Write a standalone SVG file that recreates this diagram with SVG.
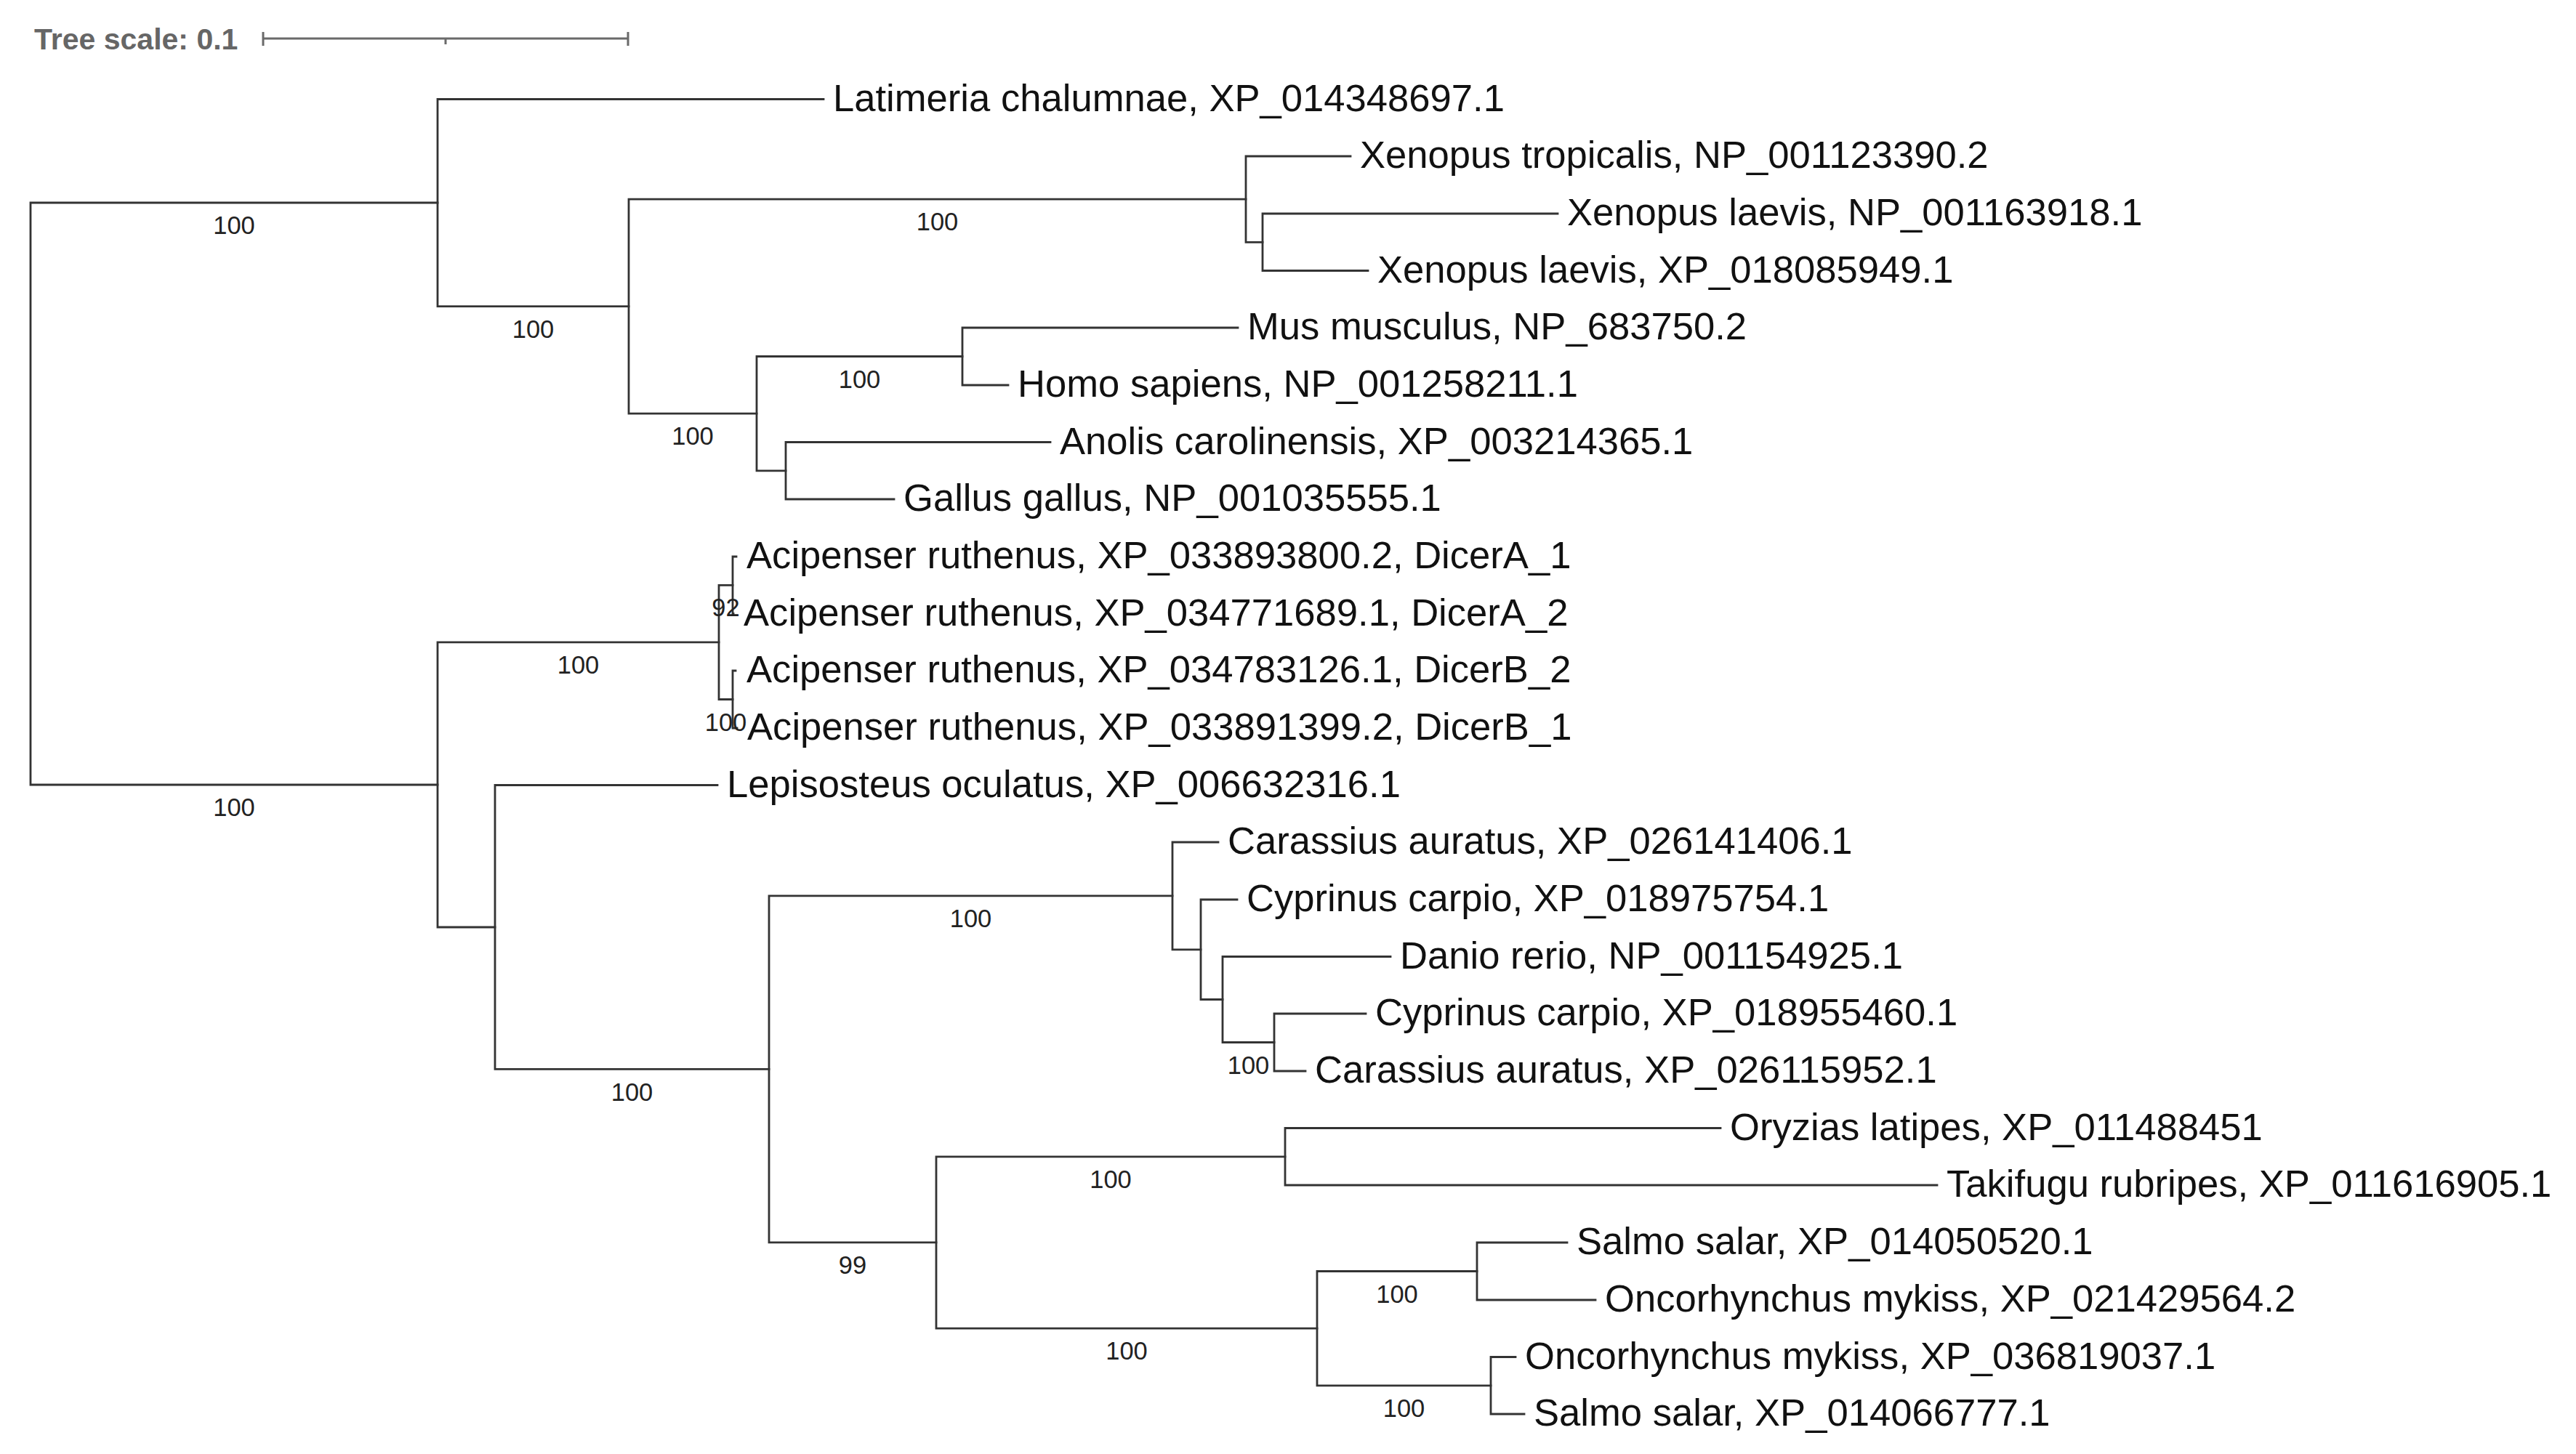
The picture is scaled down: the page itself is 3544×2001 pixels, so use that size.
<svg xmlns="http://www.w3.org/2000/svg" width="3544" height="2001" viewBox="0 0 3544 2001">
<style>
.br{fill:none;stroke:#333;stroke-width:2.8;stroke-linecap:square}
.leaf{font-family:"Liberation Sans",Arial,sans-serif;font-size:52.6px;fill:#111}
.bs{font-family:"Liberation Sans",Arial,sans-serif;font-size:34.5px;fill:#222;text-anchor:middle}
.scl{fill:none;stroke:#6a6a6a;stroke-width:3}
.sct{font-family:"Liberation Sans",Arial,sans-serif;font-size:41px;font-weight:bold;fill:#666}
</style>
<rect width="3544" height="2001" fill="#fff"/>
<g id="scale">
<text class="sct" x="47" y="68">Tree scale: 0.1</text>
<path class="scl" d="M362,53 H864 M362,44 V63 M864,44 V63 M613,53 V61"/>
</g>
<g id="connectors">
<path class="br" d="M42,679.5 V279 H602 M42,679.5 V1080 H602"/>
<path class="br" d="M602,279 V136.5 H1133 M602,279 V421.6 H865"/>
<path class="br" d="M865,421.6 V274.1 H1714 M865,421.6 V569.1 H1041"/>
<path class="br" d="M1714,274.1 V215 H1858 M1714,274.1 V333.3 H1737"/>
<path class="br" d="M1737,333.3 V294 H2143 M1737,333.3 V372.5 H1882"/>
<path class="br" d="M1041,569.1 V490.5 H1324 M1041,569.1 V647.8 H1081"/>
<path class="br" d="M1324,490.5 V451 H1703 M1324,490.5 V530 H1387"/>
<path class="br" d="M1081,647.8 V608.5 H1445 M1081,647.8 V687 H1230"/>
<path class="br" d="M602,1080 V883.9 H989 M602,1080 V1276 H681"/>
<path class="br" d="M989,883.9 V805.3 H1008 M989,883.9 V962.5 H1008"/>
<path class="br" d="M1008,805.3 V766 H1013 M1008,805.3 V844.5 H1009"/>
<path class="br" d="M1008,962.5 V923 H1012 M1008,962.5 V1002 H1014"/>
<path class="br" d="M681,1276 V1080.5 H987 M681,1276 V1471.4 H1058"/>
<path class="br" d="M1058,1471.4 V1232.9 H1613 M1058,1471.4 V1709.9 H1288"/>
<path class="br" d="M1613,1232.9 V1159 H1676 M1613,1232.9 V1306.8 H1652"/>
<path class="br" d="M1652,1306.8 V1238 H1702 M1652,1306.8 V1375.5 H1682"/>
<path class="br" d="M1682,1375.5 V1316.5 H1913 M1682,1375.5 V1434.5 H1753"/>
<path class="br" d="M1753,1434.5 V1395 H1879 M1753,1434.5 V1474 H1796"/>
<path class="br" d="M1288,1709.9 V1591.8 H1768 M1288,1709.9 V1828.1 H1812"/>
<path class="br" d="M1768,1591.8 V1552.5 H2367 M1768,1591.8 V1631 H2665"/>
<path class="br" d="M1812,1828.1 V1749.5 H2032 M1812,1828.1 V1906.8 H2051"/>
<path class="br" d="M2032,1749.5 V1710 H2156 M2032,1749.5 V1789 H2195"/>
<path class="br" d="M2051,1906.8 V1867.5 H2085 M2051,1906.8 V1946 H2097"/>
</g>
<g id="support">
<text class="bs" x="322" y="322">100</text>
<text class="bs" x="733.5" y="465">100</text>
<text class="bs" x="1289.5" y="317">100</text>
<text class="bs" x="953" y="612">100</text>
<text class="bs" x="1182.5" y="533.5">100</text>
<text class="bs" x="322" y="1123">100</text>
<text class="bs" x="795.5" y="927">100</text>
<text class="bs" x="998.5" y="848">92</text>
<text class="bs" x="998.5" y="1005.5">100</text>
<text class="bs" x="869.5" y="1514.5">100</text>
<text class="bs" x="1335.5" y="1276">100</text>
<text class="bs" x="1717.5" y="1477.5">100</text>
<text class="bs" x="1173" y="1753">99</text>
<text class="bs" x="1528" y="1635">100</text>
<text class="bs" x="1550" y="1871">100</text>
<text class="bs" x="1922" y="1792.5">100</text>
<text class="bs" x="1931.5" y="1950">100</text>
</g>
<g id="leaf-latimeria"><text class="leaf" x="1146" y="152.5">Latimeria chalumnae, XP_014348697.1</text></g>
<g id="leaf-xtropicalis"><text class="leaf" x="1871" y="231">Xenopus tropicalis, NP_001123390.2</text></g>
<g id="leaf-xlaevis-np"><text class="leaf" x="2156" y="310">Xenopus laevis, NP_001163918.1</text></g>
<g id="leaf-xlaevis-xp"><text class="leaf" x="1895" y="388.5">Xenopus laevis, XP_018085949.1</text></g>
<g id="leaf-mus"><text class="leaf" x="1716" y="467">Mus musculus, NP_683750.2</text></g>
<g id="leaf-homo"><text class="leaf" x="1400" y="546">Homo sapiens, NP_001258211.1</text></g>
<g id="leaf-anolis"><text class="leaf" x="1458" y="624.5">Anolis carolinensis, XP_003214365.1</text></g>
<g id="leaf-gallus"><text class="leaf" x="1243" y="703">Gallus gallus, NP_001035555.1</text></g>
<g id="leaf-acipenser-a1"><text class="leaf" x="1027" y="782">Acipenser ruthenus, XP_033893800.2, DicerA_1</text></g>
<g id="leaf-acipenser-a2"><text class="leaf" x="1023" y="860.5">Acipenser ruthenus, XP_034771689.1, DicerA_2</text></g>
<g id="leaf-acipenser-b2"><text class="leaf" x="1027" y="939">Acipenser ruthenus, XP_034783126.1, DicerB_2</text></g>
<g id="leaf-acipenser-b1"><text class="leaf" x="1028" y="1018">Acipenser ruthenus, XP_033891399.2, DicerB_1</text></g>
<g id="leaf-lepisosteus"><text class="leaf" x="1000" y="1096.5">Lepisosteus oculatus, XP_006632316.1</text></g>
<g id="leaf-carassius-1"><text class="leaf" x="1689" y="1175">Carassius auratus, XP_026141406.1</text></g>
<g id="leaf-cyprinus-1"><text class="leaf" x="1715" y="1254">Cyprinus carpio, XP_018975754.1</text></g>
<g id="leaf-danio"><text class="leaf" x="1926" y="1332.5">Danio rerio, NP_001154925.1</text></g>
<g id="leaf-cyprinus-2"><text class="leaf" x="1892" y="1411">Cyprinus carpio, XP_018955460.1</text></g>
<g id="leaf-carassius-2"><text class="leaf" x="1809" y="1490">Carassius auratus, XP_026115952.1</text></g>
<g id="leaf-oryzias"><text class="leaf" x="2380" y="1568.5">Oryzias latipes, XP_011488451</text></g>
<g id="leaf-takifugu"><text class="leaf" x="2678" y="1647">Takifugu rubripes, XP_011616905.1</text></g>
<g id="leaf-salmo-1"><text class="leaf" x="2169" y="1726">Salmo salar, XP_014050520.1</text></g>
<g id="leaf-oncorhynchus-1"><text class="leaf" x="2208" y="1805">Oncorhynchus mykiss, XP_021429564.2</text></g>
<g id="leaf-oncorhynchus-2"><text class="leaf" x="2098" y="1883.5">Oncorhynchus mykiss, XP_036819037.1</text></g>
<g id="leaf-salmo-2"><text class="leaf" x="2110" y="1962">Salmo salar, XP_014066777.1</text></g>
</svg>
